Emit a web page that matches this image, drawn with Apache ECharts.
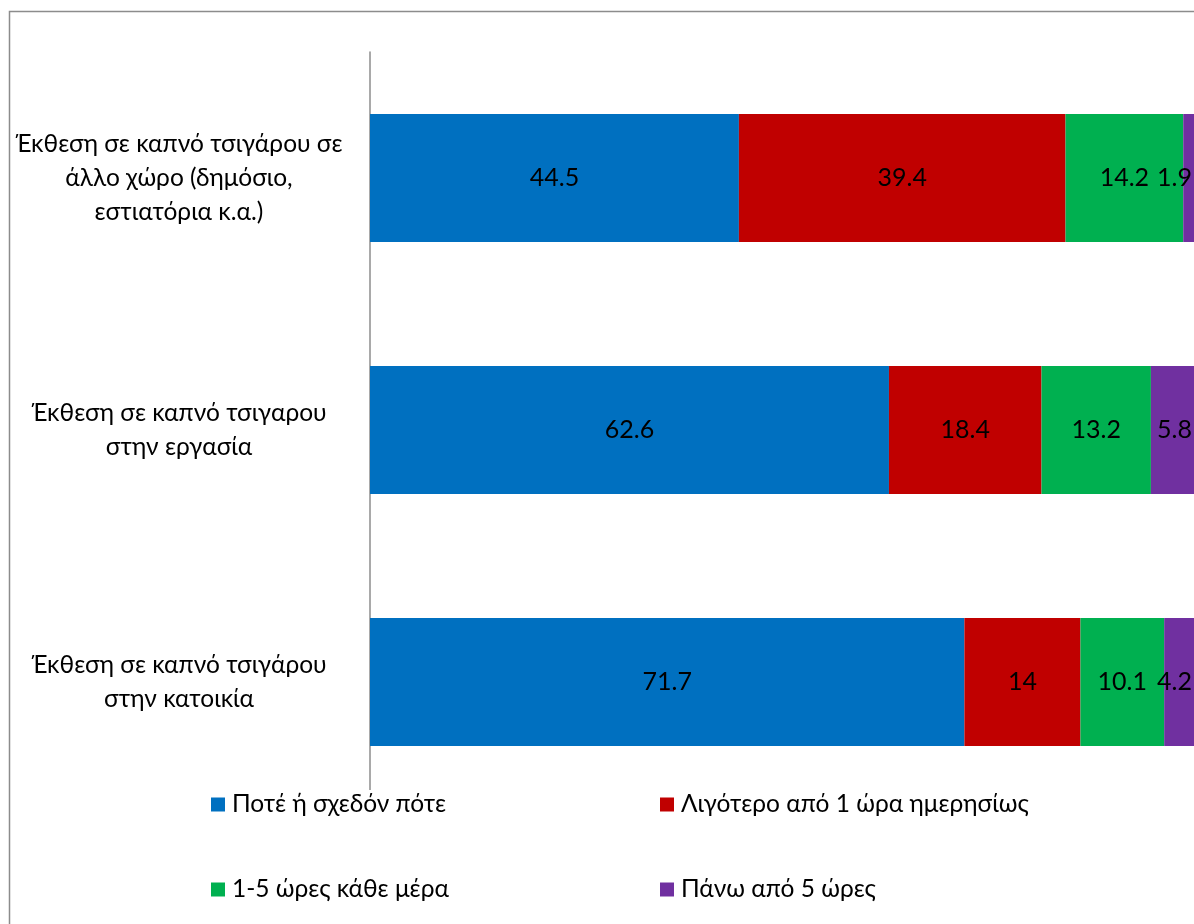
<!DOCTYPE html>
<html>
<head>
<meta charset="utf-8">
<script src="https://cdn.jsdelivr.net/npm/echarts@6/dist/echarts.min.js"></script>
<style>
  html, body { margin: 0; padding: 0; background: #fff; }
  #chart { width: 1194px; height: 924px; }
</style>
</head>
<body>
<div id="chart"></div>
<script>
// Categories, listed top to bottom
const categories = [
  'Έκθεση σε καπνό τσιγάρου σε\nάλλο χώρο (δημόσιο,\nεστιατόρια κ.α.)',
  'Έκθεση σε καπνό τσιγαρου\nστην εργασία',
  'Έκθεση σε καπνό τσιγάρου\nστην κατοικία'
];

const seriesNames = [
  'Ποτέ ή σχεδόν πότε',
  'Λιγότερο από 1 ώρα ημερησίως',
  '1-5 ώρες κάθε μέρα',
  'Πάνω από 5 ώρες'
];

// Percentages per category (same order as categories)
const neverValues   = [44.5, 62.6, 71.7];
const lessOneValues = [39.4, 18.4, 14];
const oneFiveValues = [14.2, 13.2, 10.1];
const overFiveValues = [1.9, 5.8, 4.2];

const seriesValues = [neverValues, lessOneValues, oneFiveValues, overFiveValues];
const colors = ['#0070C0', '#C00000', '#00B050', '#7030A0'];

const FONT = 'Lato, "Noto Sans", sans-serif';

const chart = echarts.init(document.getElementById('chart'), null, { renderer: 'canvas' });

const series = seriesValues.map((vals, i) => ({
  name: seriesNames[i],
  type: 'bar',
  stack: 'total',
  data: vals,
  barWidth: 128,
  itemStyle: { color: colors[i] },
  label: {
    show: true,
    position: i === 3 ? 'insideRight' : 'inside',
    distance: 7,
    color: '#000',
    fontFamily: FONT,
    fontSize: 25
  },
  emphasis: { disabled: true }
}));

// Legend laid out in two rows of two items
const legendPos = [
  { left: 211, top: 790 },
  { left: 660, top: 790 },
  { left: 211, top: 875 },
  { left: 660, top: 875 }
];
const legends = seriesNames.map((n, i) => ({
  data: [n],
  left: legendPos[i].left,
  top: legendPos[i].top,
  padding: [2, 4, 2, 0],
  backgroundColor: i === 0 ? '#fff' : 'transparent',
  itemWidth: 14,
  itemHeight: 14,
  itemGap: 0,
  icon: 'rect',
  selectedMode: false,
  textStyle: { fontFamily: FONT, fontSize: 24.5, color: '#000', padding: [0, 0, 0, 2] }
}));

chart.setOption({
  animation: false,
  backgroundColor: '#fff',
  graphic: [{
    type: 'rect',
    shape: { x: 9.5, y: 11.5, width: 1300, height: 1000 },
    style: { fill: 'none', stroke: '#8c8c8c', lineWidth: 1.5 },
    z: -1
  }],
  grid: { left: 370, top: 52, width: 829, height: 756, outerBoundsMode: 'none' },
  xAxis: {
    type: 'value',
    min: 0,
    max: 100,
    show: false
  },
  yAxis: {
    type: 'category',
    inverse: true,
    data: categories,
    axisLine: { show: true, lineStyle: { color: '#8c8c8c', width: 1.5 } },
    axisTick: { show: false },
    axisLabel: {
      align: 'center',
      margin: 191,
      color: '#000',
      fontFamily: FONT,
      fontSize: 24.5,
      lineHeight: 34
    }
  },
  legend: legends,
  series: series
});
</script>
</body>
</html>
